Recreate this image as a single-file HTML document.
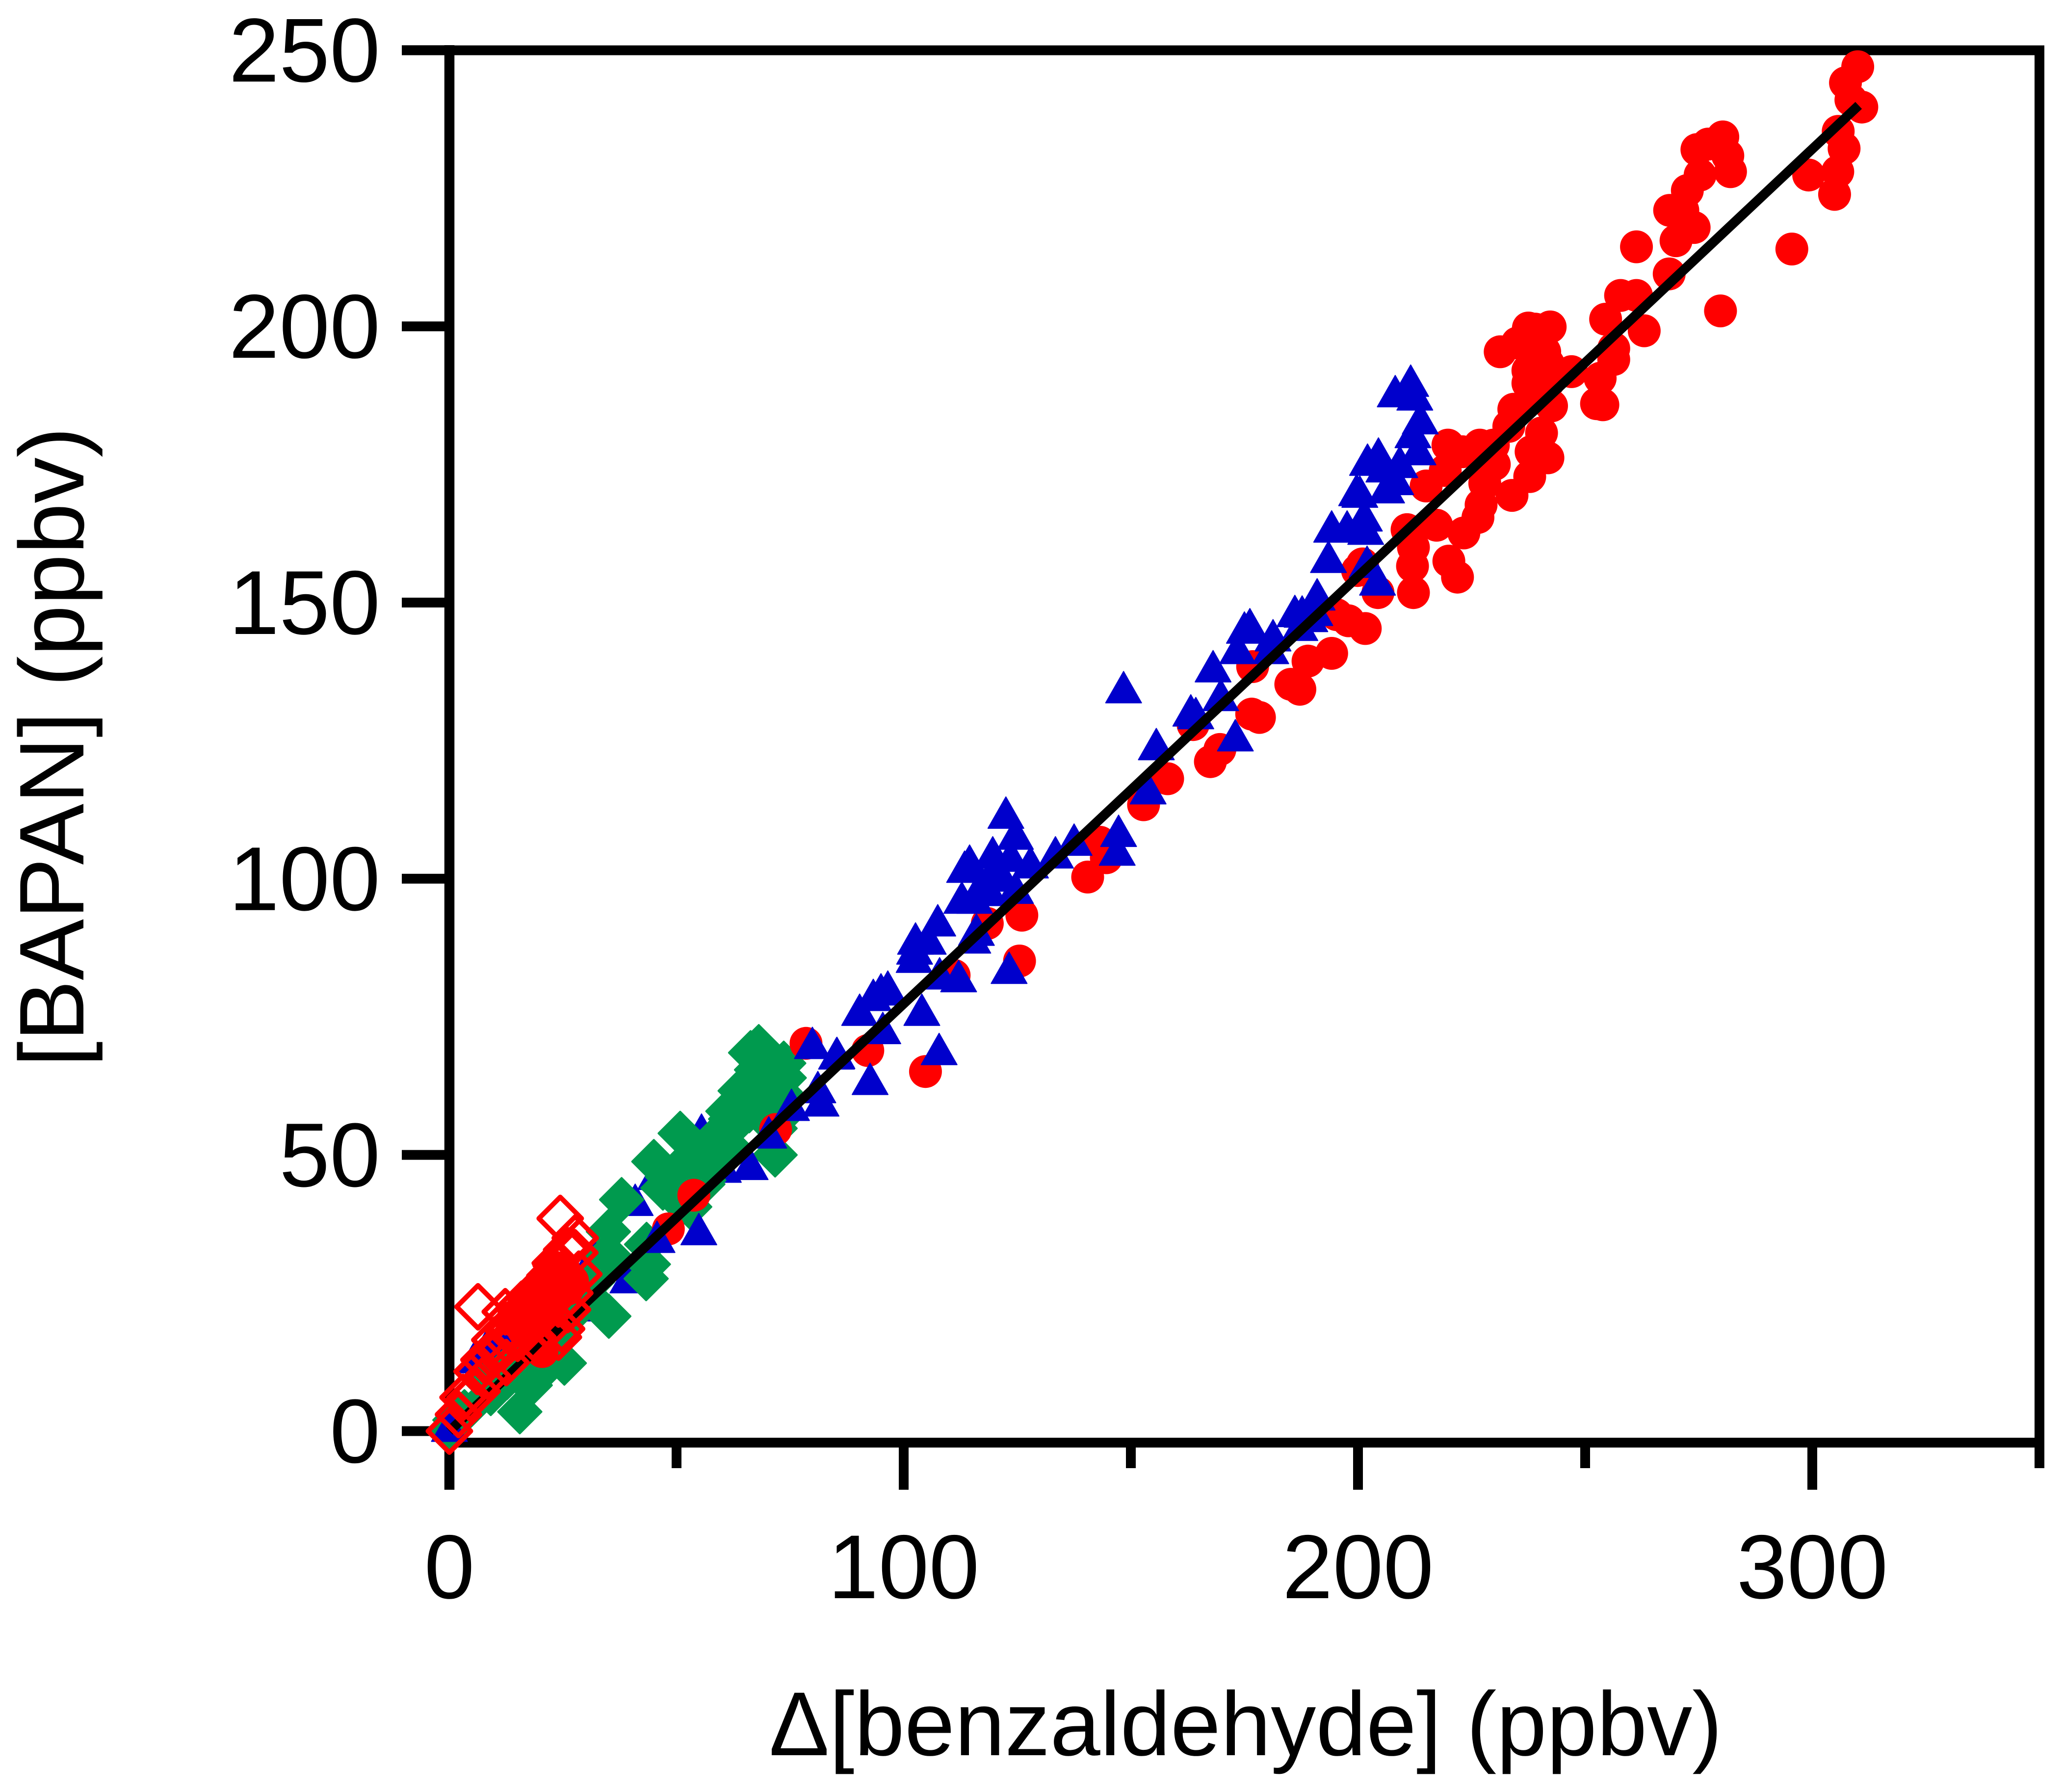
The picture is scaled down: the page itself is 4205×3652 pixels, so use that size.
<!DOCTYPE html>
<html lang="en">
<head>
<meta charset="utf-8">
<title>BAPAN vs benzaldehyde</title>
<style>
html,body{margin:0;padding:0;background:#fff;width:4205px;height:3652px;overflow:hidden}
svg{display:block}
text{font-family:"Liberation Sans",Arial,sans-serif;fill:#000}
</style>
</head>
<body>
<svg id="chart" xmlns="http://www.w3.org/2000/svg" width="4205" height="3652" viewBox="0 0 4205 3652">
<rect x="0" y="0" width="4205" height="3652" fill="#fff"/>
<g id="axes"></g>
<g id="marks"></g>
<text x="2539" y="3577" font-size="185" text-anchor="middle" textLength="1943" lengthAdjust="spacingAndGlyphs">Δ[benzaldehyde] (ppbv)</text>
<text x="0" y="0" transform="translate(170,1522) rotate(-90)" font-size="187" text-anchor="middle" textLength="1304" lengthAdjust="spacingAndGlyphs">[BAPAN] (ppbv)</text>
</svg>
<script>
const xMajorTicks = [0, 100, 200, 300];
const xMinorTicks = [50, 150, 250, 350];
const yTicks = [0, 50, 100, 150, 200, 250];

const fitX = [0, 310.2];
const fitY = [0, 240];

const redX = [310,307.3,308.5,310.9,305.7,307,305.6,299.2,304.9,280.3,277.1,274.6,281.4,282,275.3,272.5,268.6,271.5,274,270,261.3,295.5,268.5,257.8,261.3,279.8,263,254.5,256.3,256.3,253.3,253.9,252.5,247,242.3,237.5,239,231.3,235.1,241.1,237.4,241.9,237.4,242,234.3,242.6,238.1,233.2,240.4,238.1,241.8,237.8,233.9,229,227.9,227.1,226.4,223.3,217.3,210.8,212.2,212,212.2,220,221.9,219.8,223,226.8,229.8,219.2,215,230,199.9,201,204.4,195.3,197.9,201.6,194.2,189,176.8,185.2,187.2,176.6,178.3,169.6,167.5,158.1,152.8,163.7,143.2,144.6,140.5,126,118.4,125.5,111.1,92.1,104.8,78.5,71.8,53.8,48.2,20.4,23.5,25.3,27.1,21.7,19.9,23.5,26,18.1,21.7,16.3,19.9,14.1,17.4,20.6,16.3,19.9];
const redY = [247,244.1,241,239.7,235.3,232.2,228,227.4,223.9,234.3,233,232,230.9,228,227.4,224.6,221,221,217.9,215.5,214.4,214,209.5,205.6,205.6,202.8,199.2,201.3,196,194,190.6,185.8,186,191.8,199.9,199.7,199.5,195.4,197,195.4,192,193.2,189.7,190,185,185.6,187,181.9,180.7,177.3,176.2,172.8,169.4,174.5,171.6,167.7,165.4,162.6,164,163.2,160,156.6,151.8,157.5,154.6,178.5,177.3,178.5,178.5,173.9,171.1,175,155.8,157,151.8,147.8,146.7,145.3,140.8,139.4,138.4,135.2,134.3,129.8,129.2,123.4,121.2,118.1,113.4,127.9,106.6,103.8,100.3,93.4,91.9,85.1,82.5,68.9,65.1,70.2,54.6,42.7,36.6,14.4,29.6,28.1,27.2,27.8,25.7,25.7,25.7,24.3,23.7,22.8,22.2,20.7,20.7,20.7,18.3,17.7];

const blueUnderX = [8.4,5.5,10.2,13.8,17,31.8,37.2,39.3,40.9,45.4,49.8,55.5,60.3,32.5];
const blueUnderY = [14.8,12.4,13.3,16.9,20,31,29.9,26.9,40.9,45.6,44.8,53.6,46.9,21.8];

const greenX = [0,1.2,3.3,8.1,11.6,15.5,17.8,19.2,21.9,25.3,28.8,31.5,34.3,35.1,35,37.9,43.3,43.8,43.4,45,50.8,53.2,51.2,52.9,55.7,55.8,56,57.7,59.8,61.3,61.9,63.2,64,66.3,67.6,68.1,71.5,71.7,71.7,72.2,72.4,72.8,73.7,73.6,67,69,64,66,61,58,30.7,28.1,23.5,19.9,16.3,12.7,9.1,35,47,48,70,68,60];
const greenY = [0,2,3.5,8.8,10.6,3.5,8.3,10,17.4,12.3,23.6,27,31.5,20.8,36.1,41.9,27.6,30.2,33.8,48.8,53.9,49.7,41.2,40.6,46.3,44.7,45.4,51.4,54.2,57.9,56.5,55.9,61.6,68.5,65.4,69.6,58.7,54.8,50,56.5,56.5,61.4,63.95,66.6,62,60,57,58,52,49,24.3,22.2,17.7,15.4,12.4,9.7,6.8,32,44,46,64,63,50];

const blueX = [0,148.4,168.1,176.2,175,173.5,181.3,180.8,186.1,187.7,190.5,189.4,187.2,169.8,163.2,164.3,173,155.6,153.8,147.3,147,137.5,133.4,122.5,124.6,127.9,119.6,114.5,113.4,119.9,123.6,117,121.7,115.6,118.9,124.6,112.8,116,115.2,107.5,102.6,105.4,102.4,102.3,107.9,112.1,123.2,104,93.3,95,96.5,90.3,95.4,107.8,85.3,92.6,79.9,85.2,81.1,81.8,75.3,70.3,66.2,54.9,45.7,211.6,208.2,212.5,213.7,212.1,213.2,209.2,204.5,202.1,205.7,208.3,206.3,199.7,200.4,201.4,194.2,197.6,201.7,193.5,202,204.3,191];
const blueY = [0,133.7,137.5,145.1,144.5,140.8,143.1,140.8,147.5,147.4,147.7,146.6,145,132.3,129.5,129,125,123.4,115.4,107.7,104.3,106.1,103.8,111,107.2,102,103.8,102.3,101.2,101,103.2,98,99.6,95.6,97,97.4,95.6,89.8,88.4,91.5,88.2,88.2,86.4,84.9,81.9,81.4,82.9,75.3,78,79,79.5,75.3,72,68.2,67.5,62.8,69.3,67.4,61.3,58.9,58.1,53.1,47.4,35.6,34.2,189.2,187.3,186.7,182.4,179.9,176.8,174.5,176,174.9,173.7,171.4,169.9,169.4,169.1,164.8,162.8,162.8,162.4,157.3,156.4,153.2,150.5];

const openX = [24.4,27.7,27.6,28.5,24.7,25.8,23.3,22.1,6.3,12.3,13.2,13.1,7.6,6.1,12.5,3,6.1,0,9,10,15,18,16,19,21,23.5,25.3,24,20.2,22,24,26,18.4,16.3,14.1,11.6,8.4,26.5,2,4.5];
const openY = [38.5,34.96,32.3,28.4,18.5,32.8,30.4,28.1,22.5,21.6,19,18,12.9,10.8,12.4,6.1,7.2,0,14,16.5,16.8,20.2,23,25,27,30,26,23,21,19,17,22,17,19,17.5,15,10,25,3,6];

const X0 = 916, XS = 9.26, Y0 = 2916.5, YS = 11.257;
const xPos = v => X0 + v * XS;
const yPos = v => Y0 - v * YS;
const NS = 'http://www.w3.org/2000/svg';
const axes = document.getElementById('axes');
const marks = document.getElementById('marks');

function rule(parent, x1, y1, x2, y2, w) {
  const l = document.createElementNS(NS, 'line');
  l.setAttribute('x1', x1);
  l.setAttribute('y1', y1);
  l.setAttribute('x2', x2);
  l.setAttribute('y2', y2);
  l.setAttribute('stroke', '#000');
  l.setAttribute('stroke-width', w);
  parent.appendChild(l);
  return l;
}

function label(str, x, y, anchor) {
  const t = document.createElementNS(NS, 'text');
  t.setAttribute('x', x);
  t.setAttribute('y', y);
  t.setAttribute('font-size', '185');
  t.setAttribute('text-anchor', anchor);
  t.textContent = str;
  axes.appendChild(t);
  return t;
}

let el;
el = rule(axes, xPos(0), 92, xPos(0), 3036, 20.5);


el = rule(axes, xPos(0), 2940, xPos(350) + 10, 2940, 20);


el = rule(axes, 819, 102.5, xPos(350) + 10, 102.5, 20);


el = rule(axes, xPos(350), 102.5, xPos(350), 2992, 20);



xMajorTicks.forEach(v => {
  const tick = rule(axes, xPos(v), 2940, xPos(v), 3036, 20);
  
  
  const lab = label(String(v), xPos(v), 3257, 'middle');
  
  
});
xMinorTicks.forEach(v => {
  const tick = rule(axes, xPos(v), 2940, xPos(v), 2992, 20);
  
  
});
yTicks.forEach(v => {
  const tick = rule(axes, 819, yPos(v), X0, yPos(v), 20);
  
  
  const lab = label(String(v), 775, yPos(v) + 64, 'end');
  
  
});

function poly(pts, fill, stroke, sw) {
  const p = document.createElementNS(NS, 'polygon');
  p.setAttribute('points', pts.map(q => q[0].toFixed(1) + ',' + q[1].toFixed(1)).join(' '));
  p.setAttribute('fill', fill);
  p.setAttribute('stroke', stroke);
  p.setAttribute('stroke-width', sw);
  p.setAttribute('stroke-linejoin', 'round');
  marks.appendChild(p);
  return p;
}

function triangle(vx, vy) {
  const cx = xPos(vx), cy = yPos(vy);
  return poly([[cx, cy - 43], [cx + 36.5, cy + 21], [cx - 36.5, cy + 21]], '#0000cc', '#0000cc', 2);
}

function diamond(vx, vy, r, fill, stroke, sw) {
  const cx = xPos(vx), cy = yPos(vy);
  return poly([[cx, cy - r], [cx + r, cy], [cx, cy + r], [cx - r, cy]], fill, stroke, sw);
}

blueUnderX.forEach((vx, i) => {
  const m = triangle(vx, blueUnderY[i]);
  
  
});

greenX.forEach((vx, i) => {
  const m = diamond(vx, greenY[i], 44, '#009a4e', '#009a4e', 4);
  
  
});

redX.forEach((vx, i) => {
  const c = document.createElementNS(NS, 'circle');
  c.setAttribute('cx', xPos(vx).toFixed(1));
  c.setAttribute('cy', yPos(redY[i]).toFixed(1));
  c.setAttribute('r', '33.5');
  c.setAttribute('fill', '#ff0000');
  
  
  marks.appendChild(c);
});

blueX.forEach((vx, i) => {
  const m = triangle(vx, blueY[i]);
  
  
});

const fit = rule(marks, xPos(fitX[0]), yPos(fitY[0]), xPos(fitX[1]), yPos(fitY[1]), 19.5);



openX.forEach((vx, i) => {
  const m = diamond(vx, openY[i], 43.5, 'none', '#ff0000', 10);
  
  
});
</script>
</body>
</html>
